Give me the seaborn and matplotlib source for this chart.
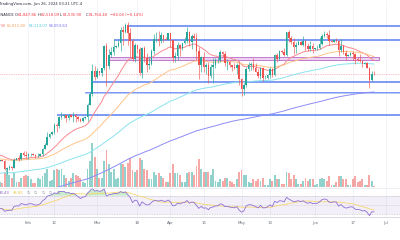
import numpy as np
import pandas as pd
import matplotlib
matplotlib.use("Agg")
import matplotlib.pyplot as plt
import seaborn as sns
from matplotlib.patches import Rectangle

# ---------------- data (prices in thousands USD, volume in thousands BTC) ----------------
start_date = "2024-01-20"
end_date = "2024-06-26"
first_open = 41.58
last_open = 61.84786

closes = [41.70, 41.58, 39.57, 39.90, 40.09, 39.96, 41.82, 42.12, 42.04, 43.30, 42.95, 42.58,
          43.08, 43.20, 43.01, 42.58, 42.71, 43.10, 44.35, 45.29, 47.13, 47.75, 48.30, 49.92, 49.70, 51.80,
          51.88, 52.13, 51.64, 52.14, 51.77, 52.26, 51.84, 51.30, 50.73, 51.57, 51.73, 54.48, 57.04, 62.43, 61.13,
          62.39, 61.99, 63.11, 68.25, 63.72, 66.07, 66.82, 68.12, 68.31, 68.96, 72.08, 71.45, 73.07, 71.39,
          69.50, 65.30, 68.39, 67.61, 61.94, 67.84, 65.50, 63.80, 63.99, 67.21, 69.88, 69.99, 69.46, 70.75,
          69.89, 69.65, 71.33,
          69.70, 65.45, 65.98, 68.51, 67.84, 68.90, 69.36, 71.63, 69.14, 70.59, 70.06, 67.20, 63.77, 65.74,
          63.42, 63.79, 61.28, 63.47, 63.82, 64.94, 64.94, 66.82, 66.41, 64.29, 64.50, 63.77, 63.46, 63.12,
          63.87, 60.67,
          58.25, 59.12, 62.89, 63.89, 64.03, 63.16, 62.33, 61.19, 63.05, 60.79, 60.83, 61.48, 62.94, 61.58,
          66.21, 65.24, 67.02, 66.92, 66.27, 71.45, 70.15, 69.17, 67.97, 68.55, 69.29, 68.51, 69.39, 68.30,
          67.58, 68.36, 67.49,
          67.71, 67.75, 68.80, 70.57, 71.08, 70.76, 69.34, 69.31, 69.65, 69.51, 67.32, 68.24, 66.76, 66.01,
          66.19, 66.64, 66.49, 65.14, 64.96, 64.83, 64.10, 64.25, 63.18, 60.28, 61.81, 61.76]

highs = [41.86, 41.87, 41.69, 40.13, 40.54, 40.29, 42.23, 42.20, 42.84, 43.30, 43.88, 43.75,
         43.29, 43.50, 43.38, 43.12, 43.49, 43.40, 44.49, 45.62, 48.20, 48.15, 48.59, 50.30, 50.37, 52.04,
         52.82, 52.57, 52.19, 52.35, 52.49, 52.98, 52.37, 52.04, 51.55, 51.70, 51.96, 54.90, 57.59, 64.00, 63.68,
         63.15, 62.43, 63.23, 68.50, 69.00, 67.64, 67.99, 69.99, 68.54, 69.94, 72.80, 72.97, 73.65, 73.78,
         72.40, 70.00, 68.92, 68.50, 68.10, 68.03, 68.24, 66.65, 65.97, 67.60, 71.15, 71.56, 71.73, 71.55,
         70.90, 70.33, 71.37,
         71.34, 69.67, 66.91, 69.29, 68.73, 69.00, 70.33, 72.80, 71.76, 71.17, 71.26, 71.23, 67.93, 65.84,
         66.87, 64.36, 64.49, 64.13, 65.45, 65.39, 65.72, 67.23, 67.20, 67.08, 65.28, 64.79, 63.92, 64.37,
         64.22, 64.75,
         60.85, 59.60, 63.32, 64.49, 64.61, 65.50, 64.34, 62.99, 63.42, 63.47, 61.43, 61.82, 63.45, 63.12,
         66.44, 66.69, 67.40, 67.44, 67.70, 71.52, 71.98, 70.67, 70.10, 69.22, 69.56, 69.50, 70.69, 69.68,
         68.90, 69.50, 69.00,
         67.86, 68.45, 70.29, 71.06, 71.76, 71.63, 72.00, 69.56, 69.85, 70.20, 69.56, 70.00, 68.45, 67.29,
         66.40, 66.95, 67.19, 66.60, 65.73, 66.48, 65.07, 64.53, 64.52, 63.37, 62.35, 62.52]

lows = [41.45, 41.50, 39.43, 38.56, 39.49, 39.55, 39.82, 41.68, 41.62, 41.81, 42.69, 42.28,
        41.88, 42.58, 42.88, 42.26, 42.54, 42.58, 42.79, 44.33, 45.24, 46.83, 47.53, 47.70, 48.30, 49.27,
        51.32, 51.56, 50.62, 51.15, 51.68, 50.52, 50.63, 50.93, 50.50, 50.57, 51.28, 50.90, 54.45, 56.69, 60.36,
        60.77, 61.58, 61.32, 62.79, 59.01, 62.85, 65.60, 66.08, 67.90, 68.12, 67.20, 68.62, 71.33, 68.56,
        65.63, 64.78, 64.53, 66.60, 61.50, 60.78, 64.53, 62.26, 63.00, 63.78, 66.39, 69.28, 68.38, 68.90,
        69.10, 69.56, 69.64,
        68.06, 64.55, 64.49, 65.07, 66.01, 67.45, 68.82, 69.04, 68.21, 67.52, 69.57, 65.09, 60.66, 62.13,
        62.27, 61.72, 59.77, 60.83, 59.60, 63.09, 64.24, 64.50, 65.80, 63.59, 62.78, 63.32, 62.42, 62.89,
        61.77, 59.12,
        56.55, 56.94, 58.85, 62.57, 62.60, 62.70, 62.18, 60.89, 60.65, 60.19, 60.49, 60.63, 60.76, 61.14,
        61.33, 64.61, 65.11, 66.60, 65.86, 66.06, 69.16, 68.83, 66.31, 66.62, 68.50, 68.46, 68.25, 67.45,
        67.11, 67.12, 66.67,
        67.39, 67.32, 67.61, 68.51, 70.39, 70.12, 68.42, 69.22, 69.16, 69.23, 66.05, 66.90, 66.30, 65.06,
        65.87, 66.03, 65.10, 64.06, 64.69, 64.54, 63.38, 64.00, 63.18, 58.40, 60.19, 61.54]

volumes = [15, 12, 50, 60, 40, 30, 45, 15, 18, 30, 35, 40,
           35, 25, 12, 14, 30, 25, 35, 45, 60, 20, 22, 55, 60, 55, 60, 40, 30, 20, 30, 45, 40, 35, 30,
           15, 13, 60, 85, 145, 100,
           60, 30, 30, 85, 122, 75, 50, 60, 25, 30, 75, 75, 65, 80, 95, 55, 50, 55, 97, 90, 60, 55, 25,
           25, 50, 40, 45, 35, 30, 15, 15,
           45, 75, 45, 45, 40, 15, 15, 45, 50, 50, 40, 70, 92, 60, 50, 50, 50, 40, 60, 20, 15, 25, 20,
           30, 30, 20, 15, 10, 25, 50,
           55, 40, 40, 15, 12, 25, 20, 25, 20, 30, 8, 8, 25, 20, 40, 25, 25, 10, 10, 50, 45, 25, 40, 25,
           10, 10, 20, 30, 20, 25, 25,
           5, 10, 25, 30, 25, 20, 35, 7, 8, 15, 35, 35, 25, 25, 8, 8, 25, 35, 15, 20, 25, 5, 8, 40, 20, 3]

# indicator seeds (values of the indicators on the day before the first candle)
ema_periods = [20, 50, 100, 200]
ema_seeds = [43.0, 42.0, 38.6, 33.0]
rsi_seed_gain = 0.45
rsi_seed_loss = 0.65

# drawn levels (price, start date)
level_prices = [73.0, 69.65, 59.9, 52.2]
level_starts = ["2024-03-14", "2024-03-08", "2024-02-28", "2024-02-13"]
band_low, band_high = 57.15, 57.60
band_start = "2024-02-25"
zone_low, zone_high = 65.0, 65.78
zone_start, zone_end = "2024-03-06", "2024-06-28"

tick_dates = ["2024-02-01", "2024-02-12", "2024-03-01", "2024-03-18", "2024-04-01", "2024-04-15",
              "2024-05-01", "2024-05-13", "2024-06-01", "2024-06-17", "2024-07-01"]
tick_labels = ["Feb", "12", "Mar", "18", "Apr", "15", "May", "13", "Jun", "17", "Jul"]

# ---------------- derived frame ----------------
dates = pd.date_range(start_date, end_date)
ref = pd.Timestamp("2024-02-01")
def dnum(s):
    return (pd.Timestamp(s) - ref).days

df = pd.DataFrame({"date": dates, "close": closes, "high": highs, "low": lows, "volume": volumes})
df["d"] = (df["date"] - ref).dt.days
opens = [first_open] + closes[:-1]
opens[-1] = last_open
df["open"] = opens
df["high"] = df[["high", "open", "close"]].max(axis=1)
df["low"] = df[["low", "open", "close"]].min(axis=1)
df["up"] = df["close"] >= df["open"]

for n, s in zip(ema_periods, ema_seeds):
    a = 2.0 / (n + 1)
    e = s
    vals = []
    for c in closes:
        e = e + a * (c - e)
        vals.append(e)
    df[f"ema{n}"] = vals

ag, al = rsi_seed_gain, rsi_seed_loss
prev = first_open
rs = []
for c in closes:
    ch = c - prev
    ag = (ag * 13 + max(ch, 0)) / 14
    al = (al * 13 + max(-ch, 0)) / 14
    rs.append(100 - 100 / (1 + ag / al))
    prev = c
df["rsi"] = rs
df["rsi_ma"] = df["rsi"].rolling(14, min_periods=1).mean()

# ---------------- figure ----------------
sns.set_theme(style="white")
plt.rcParams["font.family"] = ["DejaVu Sans"]
W, H = 400, 240
fig = plt.figure(figsize=(4, 2.4), dpi=100)
fig.patch.set_facecolor("white")

PX_DAY = 2.369
X0 = 28.3  # pixel of Feb 1
xlim = ((0 - X0) / PX_DAY, (W - X0) / PX_DAY)

def fx(px):
    return px / W
def fy(py):
    return 1 - py / H

UP = "#26a69a"
DN = "#ef5350"

# volume axes (behind)
ax_vol = fig.add_axes([0, fy(187), 1, 187 / H])
ax_vol.set_zorder(0)
# price axes
ax = fig.add_axes([0, fy(187), 1, 187 / H])
ax.set_zorder(1)
ax.patch.set_alpha(0)
# rsi axes
ax_r = fig.add_axes([0, fy(217), 1, 30 / H])

for a_ in (ax_vol, ax, ax_r):
    a_.set_xlim(*xlim)
    for sp in a_.spines.values():
        sp.set_visible(False)
    a_.set_yticks([])

# grid
tick_d = [dnum(t) for t in tick_dates]
for t in tick_d:
    ax_vol.axvline(t, color="#f0f3fa", lw=0.6, zorder=0)
    ax_r.axvline(t, color="#f0f3fa", lw=0.6, zorder=0)

# volume
vol_max = max(volumes)
ax_vol.set_ylim(0, vol_max * 187 / 44)
ax_vol.bar(df["d"], df["volume"], width=0.8,
           color=np.where(df["up"], UP, DN), alpha=0.5, linewidth=0)
ax_vol.set_xticks([])

# price
ytop = 61.76 + 74 / 4.3
ybot = 61.76 - (187 - 74) / 4.3
ax.set_ylim(ybot, ytop)
ax.set_xticks([])

# drawn levels
for p, s in zip(level_prices, level_starts):
    ax.hlines(p, dnum(s), xlim[1], color="#5b7ff2", lw=1.1, zorder=2)
ax.add_patch(Rectangle((dnum(band_start), band_low), xlim[1] - dnum(band_start), band_high - band_low,
                       facecolor="#b9c9f7", edgecolor="none", zorder=2))
ax.hlines(band_high, dnum(band_start), xlim[1], color="#7d98f3", lw=0.7, zorder=2)
ax.add_patch(Rectangle((dnum(zone_start), zone_low), dnum(zone_end) - dnum(zone_start), zone_high - zone_low,
                       facecolor="#ecd3f1", edgecolor="#c37bcf", lw=0.7, zorder=2))
# current price line
ax.axhline(closes[-1], color="#f5828a", lw=0.5, ls=(0, (1, 1.5)), zorder=2)

# EMAs
ema_colors = ["#f78a8f", "#ffc48a", "#8be3ee", "#8c8cf7"]
for n, c in zip(ema_periods, ema_colors):
    sns.lineplot(x=df["d"], y=df[f"ema{n}"], ax=ax, color=c, lw=0.7, zorder=3)
ax.set_xlabel("")
ax.set_ylabel("")

# candles
cols = np.where(df["up"], UP, DN)
ax.vlines(df["d"], df["low"], df["high"], colors=cols, lw=0.45, zorder=4)
body = (df["close"] - df["open"]).values
body = np.where(np.abs(body) < 0.12, np.where(body >= 0, 0.12, -0.12), body)
ax.bar(df["d"], body, bottom=df["open"], width=0.65, color=cols, linewidth=0, zorder=5)

# RSI pane
ax_r.set_ylim(22.7, 89.3)
ax_r.axhspan(30, 70, color="#7e57c2", alpha=0.09, lw=0, zorder=0)
for lv, al_ in ((70, 0.8), (50, 0.5), (30, 0.8)):
    ax_r.axhline(lv, color="#9598a1", lw=0.4, ls=(0, (1.5, 1.5)), alpha=al_, zorder=1)
ax_r.fill_between(df["d"], df["rsi"], 70, where=df["rsi"] > 70, interpolate=True,
                  color="#8bd48e", alpha=0.45, lw=0, zorder=1)
ax_r.fill_between(df["d"], df["rsi"], 30, where=df["rsi"] < 30, interpolate=True,
                  color="#f28b8b", alpha=0.45, lw=0, zorder=1)
sns.lineplot(x=df["d"], y=df["rsi_ma"], ax=ax_r, color="#f5d76e", lw=0.6, zorder=2)
sns.lineplot(x=df["d"], y=df["rsi"], ax=ax_r, color="#8e6fd3", lw=0.6, zorder=3)
ax_r.set_xlabel("")
ax_r.set_ylabel("")
ax_r.set_xticks(tick_d)
ax_r.set_xticklabels(tick_labels, fontsize=2.8, color="#6a6d78")
ax_r.tick_params(axis="x", length=0, pad=2.9)

# pane separators
fig.add_artist(plt.Line2D([0, 1], [fy(187.5), fy(187.5)], color="#e6e8ee", lw=0.5))
fig.add_artist(plt.Line2D([0, 1], [fy(217.3), fy(217.3)], color="#d1d4dc", lw=0.6))

# header texts
FS = 2.7
def t(px, py, s, c, ha="left"):
    fig.text(fx(px), fy(py), s, color=c, fontsize=FS, ha=ha, va="center")

t(-1.2, 4.5, "TradingView.com, Jun 26, 2024 03:21 UTC-4", "#2a2e39")
t(13.5, 15, "TetherUS · 1D · BINANCE", "#2a2e39", ha="right")
red = "#f23645"
t(15.2, 15, "O", "#2a2e39"); t(18.0, 15, "61,847.86", red)
t(37.3, 15, "H", "#2a2e39"); t(40.3, 15, "62,518.09", red)
t(60.0, 15, "L", "#2a2e39"); t(62.4, 15, "61,535.90", red)
t(85.8, 15, "C", "#2a2e39"); t(88.8, 15, "61,764.40", red)
t(109.5, 15, "\u221284.04 (\u22120.14%)", red)
t(5.5, 26, "64,461.98", "#f77c80", ha="right")
t(7.2, 26, "65,811.80", "#f5a35c")
t(29.0, 26, "64,113.07", "#4fc8dc")
t(49.0, 26, "58,053.63", "#6c6cf0")
t(9.5, 193, "33.43", "#7e57c2", ha="right")
t(12.8, 193, "36.85", "#e9c43a")
for xi in (26.5, 34.0, 41.5, 49.0, 56.5):
    t(xi, 193, "\u2205", "#8a8d96")

fig.savefig("out.png", dpi=100, facecolor="white")
